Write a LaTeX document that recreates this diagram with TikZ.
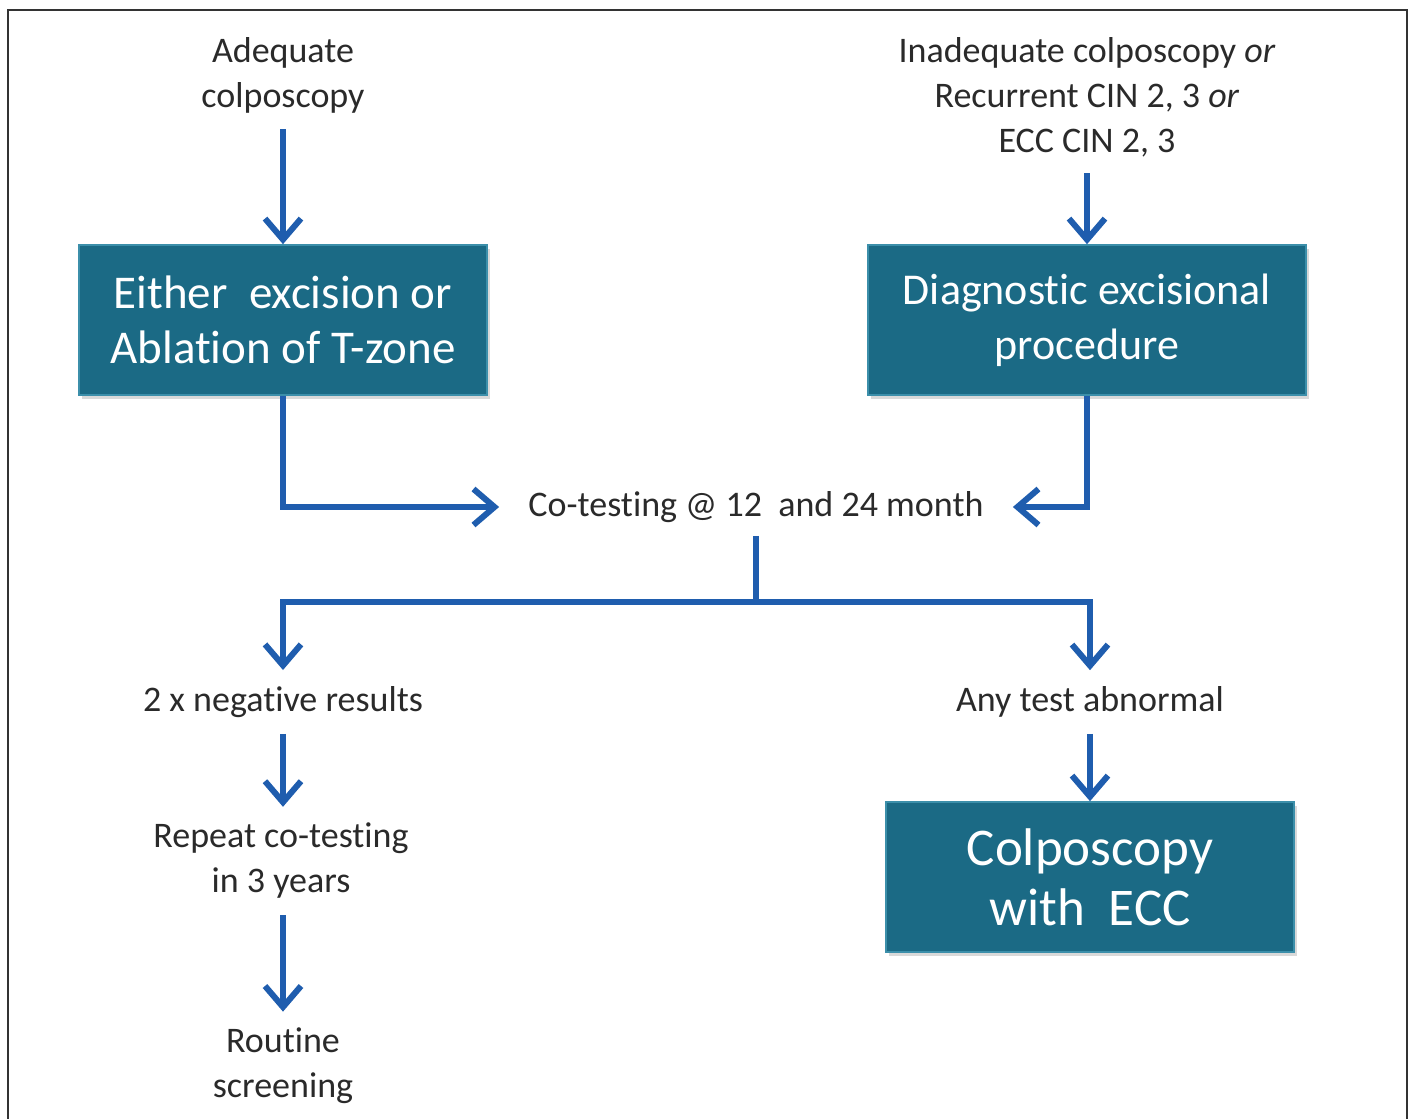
\documentclass[tikz,border=0pt]{standalone}
\usepackage{fontspec}
\setmainfont{Carlito}[Ligatures=NoCommon,RawFeature=-liga]
\usetikzlibrary{arrows.meta,shadows}

\definecolor{flowblue}{HTML}{1F5DAE}
\definecolor{boxteal}{HTML}{1B6A85}
\definecolor{boxrim}{HTML}{3C8FAA}
\definecolor{txtgray}{HTML}{2A2A2A}

\begin{document}
\begin{tikzpicture}[x=0.5pt,y=-0.5pt,
  txt/.style={align=center,text=txtgray,inner sep=8pt,
    font=\fontsize{18}{22.5}\selectfont},
  box/.style={fill=boxteal,draw=boxrim,line width=0.8pt,text=white,align=center,
    minimum width=204pt,minimum height=75pt,
    drop shadow={shadow xshift=1.5pt,shadow yshift=-2pt,opacity=.3},
    font=\fontsize{23.5}{27.5}\selectfont},
  flowline/.style={draw=flowblue,line width=3pt},
  flow/.style={flowline,-{Straight Barb[length=10.5pt,width=18pt]}}]
  \useasboundingbox (0,0) rectangle (1410,1119);
  \draw[black!80,line width=0.8pt] (8,1125) -- (8,10) -- (1407,10) -- (1407,1125);

  % top row
  \node[txt] (adeq) at (283,75) {Adequate\\colposcopy};
  \node[txt] (inadeq) at (1087,97) {Inadequate colposcopy \textit{or}\\
    Recurrent CIN 2, 3 \textit{or}\\ECC CIN 2, 3};
  \node[box] (excise) at (283,320) {Either\ \ excision or\\Ablation of T-zone};
  \node[box,minimum width=219pt,font=\fontsize{22}{27.5}\selectfont] (diag)
    at (1087,320) {Diagnostic excisional\\procedure};

  % follow-up
  \node[txt,inner xsep=14.5pt,inner ysep=6.5pt] (cotest) at (756,507)
    {Co-testing @ 12\ \ and 24 month};
  \coordinate (split) at (756,602);
  \node[txt] (negres) at (283,702) {2 x negative results};
  \node[txt] (repeat) at (281,861) {Repeat co-testing\\in 3 years};
  \node[txt] (routine) at (283,1066) {Routine\\screening};
  \node[txt] (abnorm) at (1090,702) {Any test abnormal};
  \node[box,font=\fontsize{26.5}{30}\selectfont] (colpo) at (1090,877)
    {Colposcopy\\with\ \ ECC};

  \path[flow] (adeq) -- (excise);
  \path[flow] (inadeq) -- (diag);
  \path[flow] (excise.south) |- (cotest.west);
  \path[flow] (diag.south) |- (cotest.east);
  \path[flowline] (cotest.south) -- (split);
  \path[flow] (split) -| (negres.north);
  \path[flow] (split) -| (abnorm.north);
  \path[flow] (negres.south) -- (negres.south |- repeat.north);
  \path[flow] (repeat.south -| negres) -- (negres |- routine.north);
  \path[flow] (abnorm) -- (colpo);
\end{tikzpicture}
\end{document}
